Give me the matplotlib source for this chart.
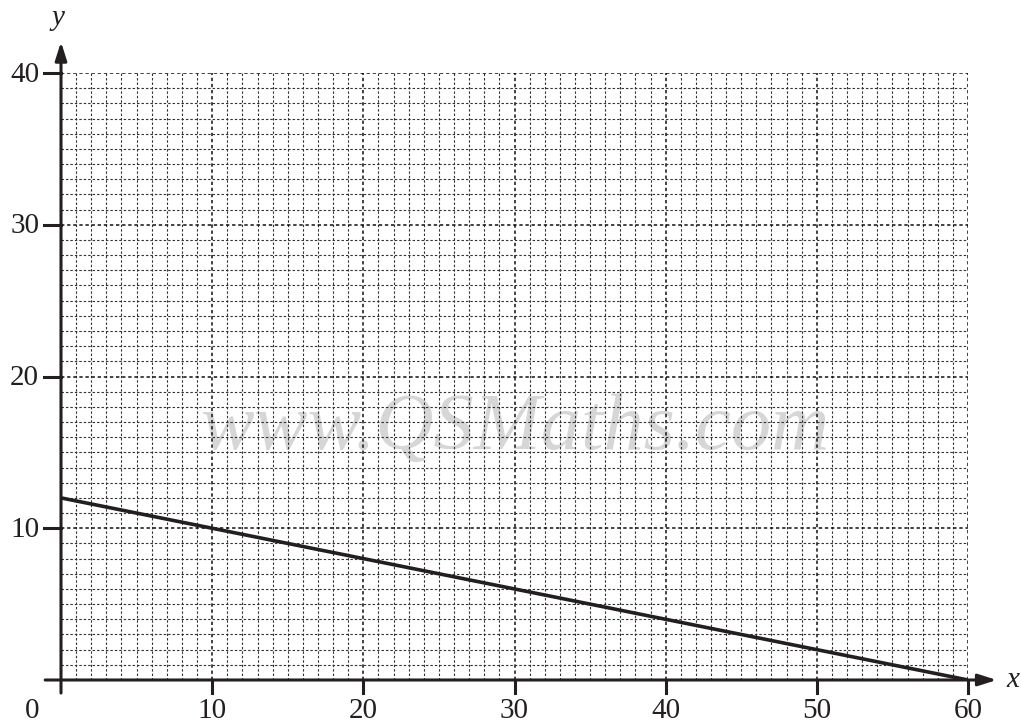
import matplotlib
matplotlib.use("Agg")
import matplotlib.pyplot as plt
import numpy as np

# line data: passes through (0, 12) and (60, 0)
line_x = [0, 60]
line_y = [12, 0]
x_ticks = [10, 20, 30, 40, 50, 60]
y_ticks = [10, 20, 30, 40]

plt.rcParams['font.family'] = ['Liberation Serif', 'DejaVu Serif']

fig = plt.figure(figsize=(10.21, 7.22), dpi=100)
ax = fig.add_axes([61 / 1021, 42 / 722, 907 / 1021, 607 / 722])
ax.set_xlim(0, 60)
ax.set_ylim(0, 40)
for s in ax.spines.values():
    s.set_visible(False)
ax.set_xticks([])
ax.set_yticks([])

# dotted graph-paper grid
for gx in range(1, 61):
    lw = 1.1 if gx % 10 == 0 else 0.8
    col = '#111111' if gx % 10 == 0 else '#333333'
    ax.plot([gx, gx], [0, 40], color=col, lw=lw, ls=(0, (2.2, 1.8)), zorder=1)
for gy in range(1, 41):
    lw = 1.1 if gy % 10 == 0 else 0.8
    col = '#111111' if gy % 10 == 0 else '#333333'
    ax.plot([0, 60], [gy, gy], color=col, lw=lw, ls=(0, (2.2, 1.8)), zorder=1)

# faint watermark
ax.text(30, 16.5, 'www.QSMaths.com', fontsize=58, style='italic', color='#bbbbbb',
        alpha=0.6, ha='center', va='center', zorder=0.5)

# axes with arrows
ax.annotate('', xy=(61.9, 0), xytext=(-1.05, 0),
            arrowprops=dict(arrowstyle='-|>,head_length=1.1,head_width=0.35', color='#231f20', lw=2.2,
                            shrinkA=0, shrinkB=0),
            annotation_clip=False, zorder=4)
ax.annotate('', xy=(0, 42.05), xytext=(0, -0.86),
            arrowprops=dict(arrowstyle='-|>,head_length=1.1,head_width=0.35', color='#231f20', lw=2.2,
                            shrinkA=0, shrinkB=0),
            annotation_clip=False, zorder=4)

# tick marks and labels
for tx in x_ticks:
    ax.plot([tx, tx], [0, -0.86], color='#231f20', lw=2.2, clip_on=False, zorder=4)
    ax.text(tx, -2.5, str(tx), ha='center', va='baseline', fontsize=21, color='#231f20')
for ty in y_ticks:
    ax.plot([0, -1.1], [ty, ty], color='#231f20', lw=2.2, clip_on=False, zorder=4)
    ax.text(-1.45, ty - 0.1, str(ty), ha='right', va='center', fontsize=21, color='#231f20')
ax.text(-1.92, -2.5, '0', ha='center', va='baseline', fontsize=21, color='#231f20')

ax.text(62.96, 0.0, 'x', style='italic', fontsize=21, ha='center', va='center', color='#231f20')
ax.text(-0.2, 43.6, 'y', style='italic', fontsize=21, ha='center', va='center', color='#231f20')

# the line
ax.plot(line_x, line_y, color='#231f20', lw=2.6, solid_capstyle='butt', zorder=3)

fig.savefig('out.png', dpi=100)
